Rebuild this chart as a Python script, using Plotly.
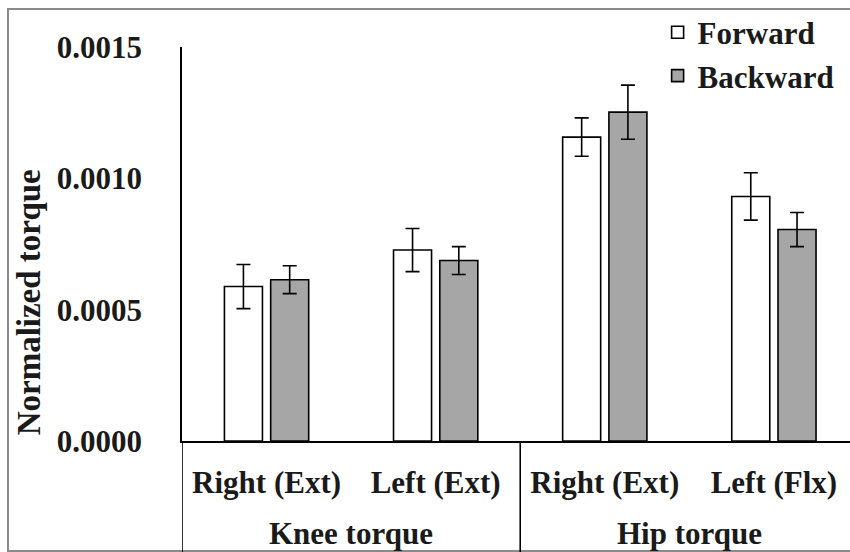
import plotly.graph_objects as go

# Joint torque data (normalized), mean and standard deviation per direction
joint_labels = ["Right (Ext)", "Left (Ext)", "Right (Ext)", "Left (Flx)"]
group_labels = ["Knee torque", "Hip torque"]
forward_mean = [0.000588, 0.000727, 0.001157, 0.000931]
forward_sd = [0.000084, 0.000082, 0.000073, 0.000090]
backward_mean = [0.000614, 0.000687, 0.001252, 0.000805]
backward_sd = [0.000053, 0.000053, 0.000103, 0.000065]
y_ticks = [0.0, 0.0005, 0.0010, 0.0015]

FONT = "Liberation Serif"
TXT = "#1a1a1a"
FS = 31
positions = list(range(len(joint_labels)))

fig = go.Figure()
err_style = dict(type="data", visible=True, color="black", thickness=1.6, width=7)

fig.add_trace(go.Bar(
    x=positions, y=forward_mean, name="Forward",
    marker=dict(color="white", line=dict(color="black", width=1.6)),
    error_y=dict(array=forward_sd, **err_style),
    legendgroup="f",
))
fig.add_trace(go.Bar(
    x=positions, y=backward_mean, name="Backward",
    marker=dict(color="#a6a6a6", line=dict(color="black", width=1.6)),
    error_y=dict(array=backward_sd, **err_style),
    legendgroup="b",
))

bold = dict(family=FONT, size=FS, color=TXT, weight="bold")

fig.update_layout(
    width=850, height=552,
    margin=dict(l=182, r=0, t=47, b=111),
    paper_bgcolor="white", plot_bgcolor="white",
    barmode="group", bargap=0.453, bargroupgap=0.178,
    font=dict(family=FONT, size=FS, color=TXT),
    showlegend=True,
    legend=dict(
        x=0.712, y=1.105, xanchor="left", yanchor="top",
        font=bold, bgcolor="rgba(0,0,0,0)", tracegroupgap=0,
        itemwidth=30,
    ),
)

fig.update_xaxes(
    range=[-0.5, 3.45],
    tickmode="array", tickvals=positions, ticktext=joint_labels,
    showline=True, linecolor="black", linewidth=1.6,
    showgrid=False, zeroline=False, ticks="",
    ticklabelstandoff=13,
    tickfont=bold,
)
fig.update_yaxes(
    range=[0, 0.0015],
    tickmode="array", tickvals=y_ticks,
    ticktext=[f"{v:.4f}" for v in y_ticks],
    showline=True, linecolor="black", linewidth=1.6,
    showgrid=False, zeroline=False, ticks="",
    ticklabelstandoff=32,
    tickfont=bold,
)

# Axis title placed as a rotated annotation
fig.add_annotation(
    text="Normalized torque", textangle=-90,
    xref="paper", yref="paper", x=-0.229, y=0.352,
    showarrow=False, xanchor="center", yanchor="middle",
    font=dict(family=FONT, size=33, color=TXT, weight="bold"),
)

# Group labels under the category labels
for label, center in zip(group_labels, [0.5, 2.5]):
    fig.add_annotation(
        text=label, xref="x", yref="paper", x=center, y=-0.236,
        showarrow=False, xanchor="center", yanchor="middle",
        font=bold,
    )

# Group dividers below the axis
for xd in [-0.5, 1.5]:
    fig.add_shape(type="line", xref="x", yref="paper",
                  x0=xd, x1=xd, y0=0, y1=-0.3,
                  line=dict(color="black", width=1.6))

# Outer frame
fig.add_shape(type="rect", xref="paper", yref="paper",
              x0=-0.2605, x1=1.05, y0=-0.279, y1=1.0964,
              line=dict(color="#8a8a8a", width=2), layer="below")

fig.write_html("out.html")
